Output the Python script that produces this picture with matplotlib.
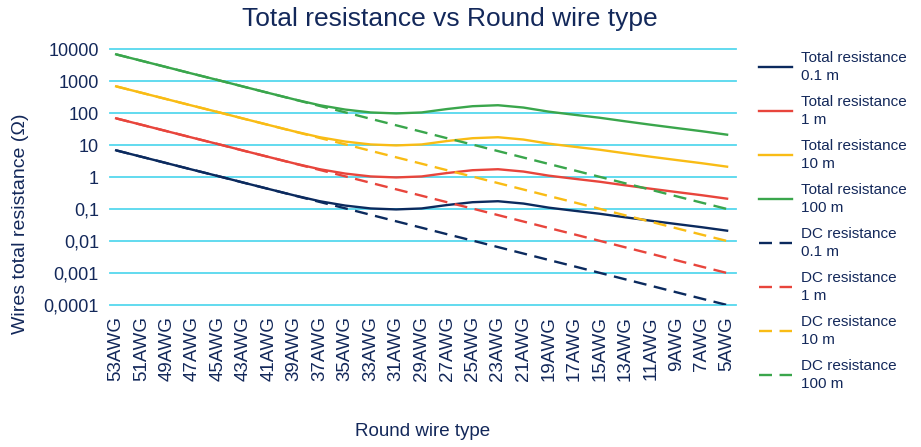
import matplotlib.pyplot as plt
import numpy as np

plt.rcParams['font.family'] = ['Liberation Sans', 'DejaVu Sans']

# categorias (calibres AWG)
gauges = ["53AWG", "51AWG", "49AWG", "47AWG", "45AWG", "43AWG", "41AWG", "39AWG",
          "37AWG", "35AWG", "33AWG", "31AWG", "29AWG", "27AWG", "25AWG", "23AWG",
          "21AWG", "19AWG", "17AWG", "15AWG", "13AWG", "11AWG", "9AWG", "7AWG", "5AWG"]

# resistencia total (ohm)
total_01m = [6.8, 4.28, 2.69, 1.69, 1.07, 0.668, 0.421, 0.266, 0.175, 0.128, 0.104,
             0.097, 0.104, 0.133, 0.163, 0.175, 0.148, 0.11, 0.088, 0.071, 0.055,
             0.043, 0.034, 0.027, 0.021]
total_1m = [68, 42.8, 26.9, 16.9, 10.7, 6.68, 4.21, 2.66, 1.75, 1.28, 1.04,
            0.97, 1.04, 1.33, 1.63, 1.75, 1.48, 1.1, 0.88, 0.71, 0.55,
            0.43, 0.34, 0.27, 0.21]
total_10m = [680, 428, 269, 169, 107, 66.8, 42.1, 26.6, 17.5, 12.8, 10.4,
             9.7, 10.4, 13.3, 16.3, 17.5, 14.8, 11, 8.8, 7.1, 5.5,
             4.3, 3.4, 2.7, 2.1]
total_100m = [6800, 4280, 2690, 1690, 1070, 668, 421, 266, 175, 128, 104,
              97, 104, 133, 163, 175, 148, 110, 88, 71, 55,
              43, 34, 27, 21]

# resistencia DC (ohm)
dc_01m = [6.8, 4.28, 2.69, 1.69, 1.07, 0.668, 0.421, 0.264, 0.166, 0.105, 0.0658,
          0.0413, 0.026, 0.0163, 0.0103, 0.00646, 0.00406, 0.00255, 0.00161, 0.00101,
          0.000635, 0.0004, 0.000251, 0.000158, 0.0001]
dc_1m = [68, 42.8, 26.9, 16.9, 10.7, 6.68, 4.21, 2.64, 1.66, 1.05, 0.658,
         0.413, 0.26, 0.163, 0.103, 0.0646, 0.0406, 0.0255, 0.0161, 0.0101,
         0.00635, 0.004, 0.00251, 0.00158, 0.001]
dc_10m = [680, 428, 269, 169, 107, 66.8, 42.1, 26.4, 16.6, 10.5, 6.58,
          4.13, 2.6, 1.63, 1.03, 0.646, 0.406, 0.255, 0.161, 0.101,
          0.0635, 0.04, 0.0251, 0.0158, 0.01]
dc_100m = [6800, 4280, 2690, 1690, 1070, 668, 421, 264, 166, 105, 65.8,
           41.3, 26, 16.3, 10.3, 6.46, 4.06, 2.55, 1.61, 1.01,
           0.635, 0.4, 0.251, 0.158, 0.1]

navy = "#0b2a5e"
rojo = "#e8453c"
amarillo = "#f9bc15"
verde = "#3aa64c"
texto = "#13285a"
rayas = (0, (5.5, 3.2))

fig = plt.figure(figsize=(9.21, 4.47), dpi=100)
ax = fig.add_axes([110/921, 1-305/447, 626/921, 256/447])

x = np.arange(len(gauges))

yt = [1e-4, 1e-3, 1e-2, 1e-1, 1, 10, 100, 1000, 10000]
# cuadricula horizontal (sin recortar la de arriba)
for v in yt:
    ax.axhline(v, color="#55d8ee", lw=1.3, clip_on=False, zorder=0)

ax.plot(x, total_01m, color=navy, lw=1.7, label="Total resistance\n0.1 m")
ax.plot(x, total_1m, color=rojo, lw=1.7, label="Total resistance\n1 m")
ax.plot(x, total_10m, color=amarillo, lw=1.7, label="Total resistance\n10 m")
ax.plot(x, total_100m, color=verde, lw=1.7, label="Total resistance\n100 m")
ax.plot(x, dc_01m, color=navy, lw=1.7, ls=rayas, label="DC resistance\n0.1 m")
ax.plot(x, dc_1m, color=rojo, lw=1.7, ls=rayas, label="DC resistance\n1 m")
ax.plot(x, dc_10m, color=amarillo, lw=1.7, ls=rayas, label="DC resistance\n10 m")
ax.plot(x, dc_100m, color=verde, lw=1.7, ls=rayas, label="DC resistance\n100 m")

ax.set_yscale("log")
ax.set_ylim(1e-4, 1e4)
ax.set_xlim(-0.24, 24.35)
ax.set_yticks(yt)
ax.set_yticklabels(["0,0001", "0,001", "0,01", "0,1", "1", "10", "100", "1000", "10000"])
ax.minorticks_off()
ax.set_xticks(x)
ax.set_xticklabels(gauges, rotation=90)
ax.tick_params(axis="x", length=0, labelsize=13.5, colors=texto, pad=8)
ax.tick_params(axis="y", length=0, labelsize=13, colors=texto, pad=8)
for s in ax.spines.values():
    s.set_visible(False)

fig.text(21/921, 1-224/447, "Wires total resistance (Ω)", fontsize=14, color=texto,
         rotation=90, ha="center", va="center")
fig.text(423/921, 1-432/447, "Round wire type", fontsize=13.5, color=texto,
         ha="center", va="center")
fig.text(450/921, 1-19/447, "Total resistance vs Round wire type", fontsize=19,
         color=texto, ha="center", va="center")

leg = ax.legend(loc="upper left", bbox_to_anchor=(745/921, 1-37/447),
                bbox_transform=fig.transFigure, frameon=False, fontsize=11,
                handlelength=2.2, labelspacing=0.8, handletextpad=0.55)
for t in leg.get_texts():
    t.set_color(texto)
    t.set_linespacing(1.35)

fig.savefig("out.png", dpi=100)
